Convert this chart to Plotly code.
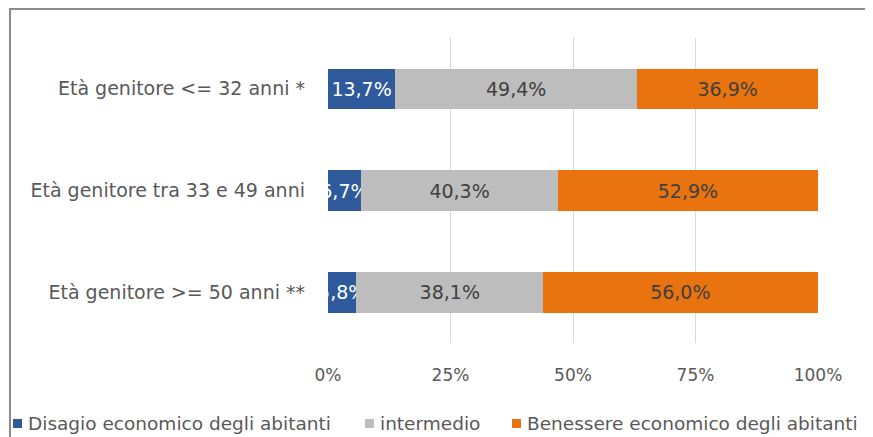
import plotly.graph_objects as go

categories = ["Età genitore <= 32 anni *", "Età genitore tra 33 e 49 anni", "Età genitore >= 50 anni **"]
series_names = ["Disagio economico degli abitanti", "intermedio", "Benessere economico degli abitanti"]
disagio = [13.7, 6.7, 5.8]
intermedio = [49.4, 40.3, 38.1]
benessere = [36.9, 52.9, 56.0]
x_ticks = [0, 25, 50, 75, 100]
x_tick_labels = ["0%", "25%", "50%", "75%", "100%"]

colors = ["#2E5A9C", "#BDBDBD", "#E8730F"]
text_colors = ["#FFFFFF", "#404040", "#404040"]
FONT = "DejaVu Sans"

def fmt(v):
    return f"{v:.1f}".replace(".", ",") + "%"

W, H = 865, 429
L, R, T, B = 320, 55, 30, 94
PW, PH = W - L - R, H - T - B

def px(x):
    return (x - L) / PW

def py(y):
    return (T + PH - y) / PH

fig = go.Figure()
for name, vals, c, tc in zip(series_names, [disagio, intermedio, benessere], colors, text_colors):
    fig.add_trace(go.Bar(
        y=categories, x=vals, name=name, orientation="h",
        marker=dict(color=c, line=dict(width=0)),
        text=[fmt(v) for v in vals], textposition="inside", insidetextanchor="middle",
        textangle=0, constraintext="none", cliponaxis=True,
        textfont=dict(family=FONT, size=19, color=tc),
        hoverinfo="skip", showlegend=False,
    ))

# legend drawn as swatches + text (one per series)
legend_swatch_x = [5, 357, 504]
shapes = [
    dict(type="line", xref="paper", yref="paper", x0=px(2), x1=px(2), y0=py(H), y1=py(0),
         line=dict(color="#8C8C8C", width=2)),
    dict(type="line", xref="paper", yref="paper", x0=px(2), x1=px(W), y0=py(1), y1=py(1),
         line=dict(color="#8C8C8C", width=2)),
]
annotations = []
for name, c, sx in zip(series_names, colors, legend_swatch_x):
    shapes.append(dict(type="rect", xref="paper", yref="paper", x0=px(sx), x1=px(sx + 9),
                       y0=py(420), y1=py(411), fillcolor=c, line=dict(width=0)))
    annotations.append(dict(xref="paper", yref="paper", x=px(sx + 13), y=py(415.5),
                            xanchor="left", yanchor="middle", showarrow=False, text=name,
                            font=dict(family=FONT, size=18.5, color="#595959")))

fig.update_layout(
    barmode="stack", bargap=0.6,
    width=W, height=H,
    margin=dict(l=L, r=R, t=T, b=B, autoexpand=False),
    paper_bgcolor="white", plot_bgcolor="white",
    font=dict(family=FONT, size=18, color="#595959"),
    showlegend=False,
    xaxis=dict(range=[0, 100], tickvals=x_ticks, ticktext=x_tick_labels,
               showgrid=True, gridcolor="#D9D9D9", gridwidth=1, zeroline=False,
               showline=False, ticks="", ticklabelstandoff=20,
               tickfont=dict(family=FONT, size=17, color="#595959")),
    yaxis=dict(autorange="reversed", showgrid=False, showline=False, ticks="",
               ticklabelstandoff=22,
               tickfont=dict(family=FONT, size=19, color="#595959")),
    shapes=shapes,
    annotations=annotations,
)

fig.write_html("out.html")
